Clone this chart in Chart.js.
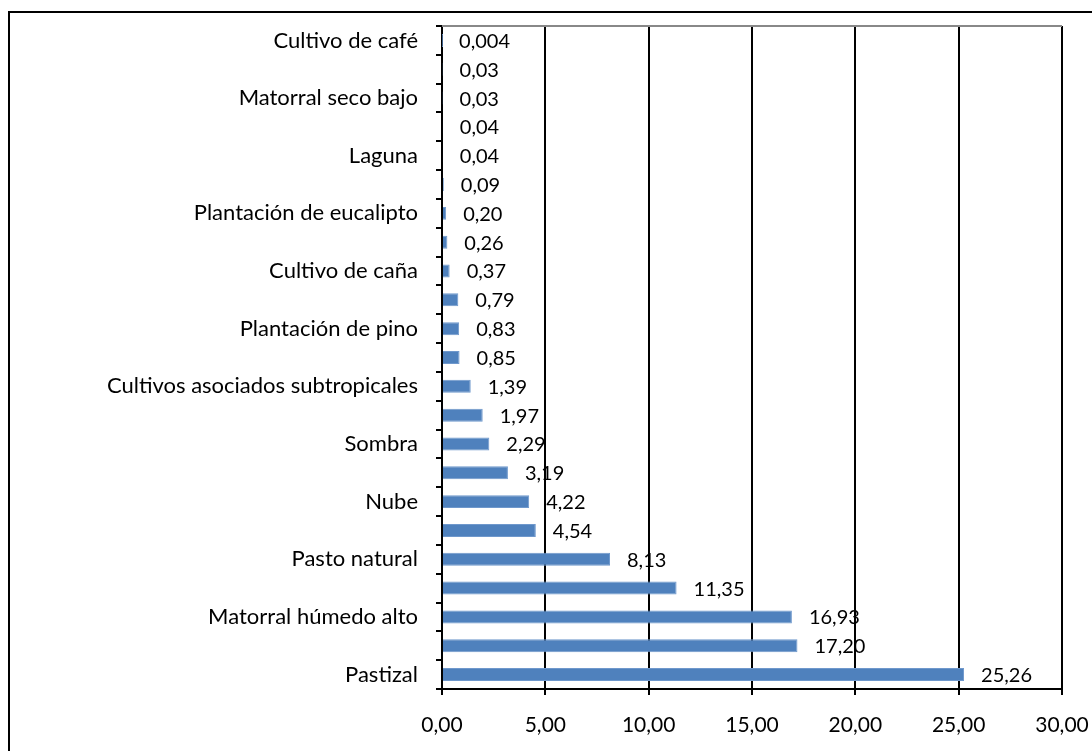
<!DOCTYPE html>
<html><head><meta charset="utf-8">
<script src="https://cdn.jsdelivr.net/npm/chart.js@4/dist/chart.umd.min.js"></script>
<style>html,body{margin:0;padding:0;background:#fff;}#wrap{position:relative;width:1092px;height:751px;}</style>
</head><body><div id="wrap"><canvas id="c" width="1092" height="751"></canvas></div>
<script>
const categories = ["Cultivo de café","","Matorral seco bajo","","Laguna","","Plantación de eucalipto","","Cultivo de caña","","Plantación de pino","","Cultivos asociados subtropicales","","Sombra","","Nube","","Pasto natural","","Matorral húmedo alto","","Pastizal"];
const values = [0.004,0.03,0.03,0.04,0.04,0.09,0.20,0.26,0.37,0.79,0.83,0.85,1.39,1.97,2.29,3.19,4.22,4.54,8.13,11.35,16.93,17.20,25.26];
const xTicks = [0,5,10,15,20,25,30];

const FONT = "Lato, 'Open Sans', sans-serif";
function fmt(v){ return (v > 0 && v < 0.01 ? v.toFixed(3) : v.toFixed(2)).replace('.', ','); }

const framePlugin = {
  id:'frame',
  beforeDraw(chart){
    const ctx = chart.ctx;
    ctx.save();
    ctx.strokeStyle = '#000'; ctx.lineWidth = 2;
    ctx.beginPath(); ctx.moveTo(9,751); ctx.lineTo(9,12); ctx.lineTo(1092,12); ctx.stroke();
    ctx.restore();
  },
  afterDraw(chart){
    const a = chart.chartArea, ctx = chart.ctx;
    ctx.save();
    ctx.strokeStyle = '#888'; ctx.lineWidth = 2;
    ctx.beginPath(); ctx.moveTo(a.left, a.top); ctx.lineTo(a.right, a.top); ctx.stroke();
    ctx.restore();
  }
};
const labelPlugin = {
  id:'vlabels',
  afterDatasetsDraw(chart){
    const ctx = chart.ctx, meta = chart.getDatasetMeta(0);
    ctx.save();
    ctx.font = "20px " + FONT; ctx.fillStyle = '#000';
    ctx.textAlign = 'left'; ctx.textBaseline = 'middle';
    meta.data.forEach((el,i)=>{ ctx.fillText(fmt(values[i]), el.x + 17, el.y + 1); });
    ctx.restore();
  }
};

new Chart(document.getElementById('c'), {
  type:'bar',
  data:{ labels: categories, datasets:[{ data: values, backgroundColor:'#4F81BD', borderColor:'#6f98cc', borderWidth:1, barPercentage:0.45, categoryPercentage:1 }]},
  options:{
    indexAxis:'y', responsive:false, animation:false,
    layout:{ padding:{ left:0, top:26, right:30, bottom:0 } },
    plugins:{ legend:{display:false}, tooltip:{enabled:false} },
    scales:{
      x:{ min:0, max:30, afterBuildTicks(s){ s.ticks = xTicks.map(v=>({value:v})); },
          afterFit(s){ s.height = 751 - 689; s.paddingLeft = 0; s.paddingRight = 0; },
          grid:{ color:'#000', lineWidth:2, tickLength:6, drawTicks:true },
          border:{ color:'#000', width:2 },
          ticks:{ color:'#000', font:{ size:21, family:FONT }, padding:18, callback:(v)=>fmt(v) } },
      y:{ afterFit(s){ s.width = 442; s.paddingTop = 0; s.paddingBottom = 0; },
          grid:{ drawOnChartArea:false, color:'#000', lineWidth:2, tickLength:6, offset:true },
          border:{ color:'#000', width:2 },
          ticks:{ color:'#000', autoSkip:false, font:{ size:22, family:FONT }, padding:18 } }
    }
  },
  plugins:[framePlugin, labelPlugin]
});
</script></body></html>
